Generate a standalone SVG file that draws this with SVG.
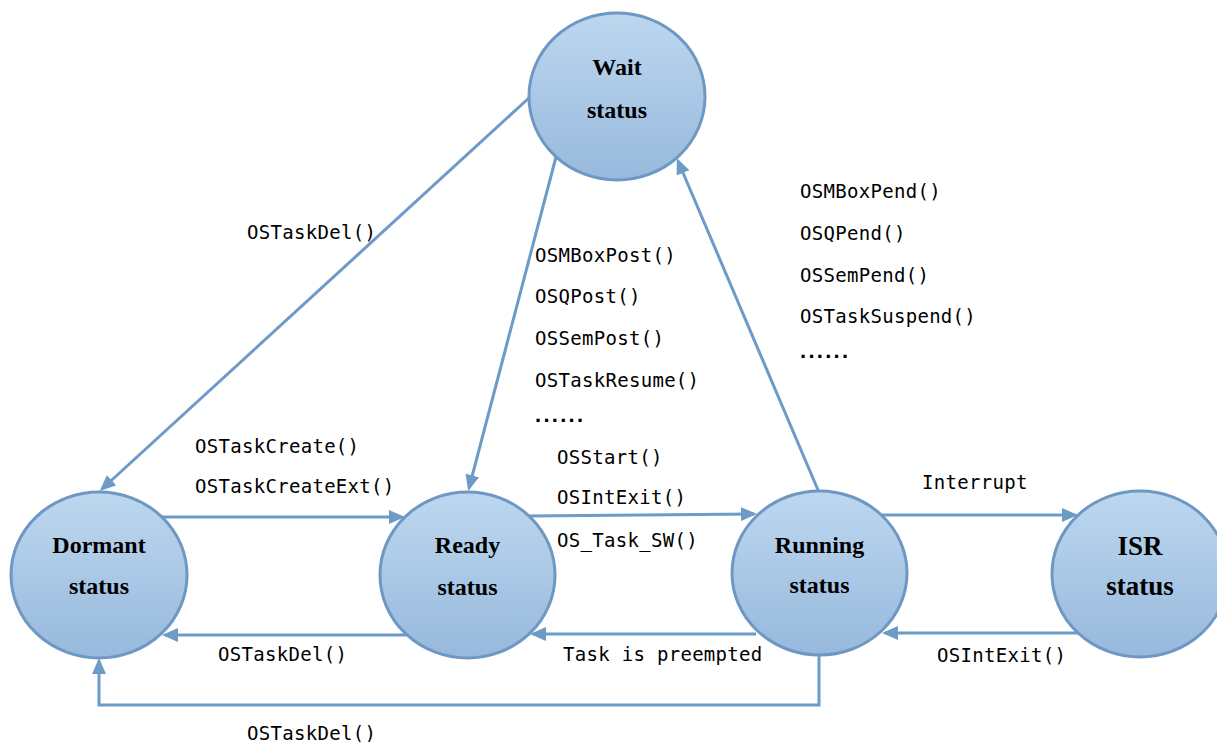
<svg xmlns="http://www.w3.org/2000/svg" width="1217" height="742" viewBox="0 0 1217 742">
<defs>
<linearGradient id="g" x1="0" y1="0" x2="0" y2="1">
<stop offset="0" stop-color="#BDD7EF"/>
<stop offset="1" stop-color="#97B9DD"/>
</linearGradient>
<marker id="a" markerUnits="userSpaceOnUse" markerWidth="17" markerHeight="15" refX="13" refY="7" orient="auto">
<path d="M0,0 L16,7 L0,14 z" fill="#6D9BC8"/>
</marker>
<style>
.n{fill:url(#g);stroke:#6E98C3;stroke-width:3}
.t{font-family:"Liberation Serif","Times New Roman",serif;font-weight:bold;font-size:24px;fill:#000;text-anchor:middle}
.c{fill:none;stroke:#6D9BC8;stroke-width:3}
.l{font-family:"DejaVu Sans Mono","Liberation Mono",monospace;font-size:19px;letter-spacing:0.3px;fill:#000}
.d{font-family:"Liberation Sans",Arial,sans-serif;font-weight:bold;font-size:22px;fill:#000}
</style>
</defs>
<rect width="1217" height="742" fill="#fff"/>
<g id="connectors">
<line class="c" x1="530" y1="97" x2="102" y2="489" marker-end="url(#a)"/>
<line class="c" x1="556" y1="157" x2="469" y2="488" marker-end="url(#a)"/>
<line class="c" x1="818" y1="490" x2="678" y2="161" marker-end="url(#a)"/>
<line class="c" x1="160" y1="517" x2="402" y2="517" marker-end="url(#a)"/>
<line class="c" x1="528" y1="516" x2="754" y2="514" marker-end="url(#a)"/>
<line class="c" x1="882" y1="515" x2="1075" y2="515" marker-end="url(#a)"/>
<line class="c" x1="406" y1="635" x2="165" y2="635" marker-end="url(#a)"/>
<line class="c" x1="756" y1="634" x2="533" y2="634" marker-end="url(#a)"/>
<line class="c" x1="1080" y1="633" x2="885" y2="633" marker-end="url(#a)"/>
<polyline class="c" points="819,655 819,705 99,705 99,661" marker-end="url(#a)"/>
</g>
<g id="labels">
<text class="l" x="247" y="239">OSTaskDel()</text>
<text class="l" x="195" y="453">OSTaskCreate()</text>
<text class="l" x="195" y="493">OSTaskCreateExt()</text>
<text class="l" x="535" y="262">OSMBoxPost()</text>
<text class="l" x="535" y="303">OSQPost()</text>
<text class="l" x="535" y="345">OSSemPost()</text>
<text class="l" x="535" y="387">OSTaskResume()</text>
<text class="d" x="535" y="422" textLength="48" lengthAdjust="spacing">......</text>
<text class="l" x="800" y="198">OSMBoxPend()</text>
<text class="l" x="800" y="240">OSQPend()</text>
<text class="l" x="800" y="282">OSSemPend()</text>
<text class="l" x="800" y="323">OSTaskSuspend()</text>
<text class="d" x="800" y="358" textLength="48" lengthAdjust="spacing">......</text>
<text class="l" x="557" y="464">OSStart()</text>
<text class="l" x="557" y="504">OSIntExit()</text>
<text class="l" x="557" y="547">OS_Task_SW()</text>
<text class="l" x="922" y="489">Interrupt</text>
<text class="l" x="218" y="661">OSTaskDel()</text>
<text class="l" x="563" y="661">Task is preempted</text>
<text class="l" x="937" y="662">OSIntExit()</text>
<text class="l" x="247" y="740">OSTaskDel()</text>
</g>
<g id="wait">
<ellipse class="n" cx="617" cy="96.5" rx="88" ry="83.5"/>
<text class="t" x="617" y="75">Wait</text>
<text class="t" x="617" y="118">status</text>
</g>
<g id="dormant">
<ellipse class="n" cx="99" cy="575" rx="88" ry="83"/>
<text class="t" x="99" y="553">Dormant</text>
<text class="t" x="99" y="594">status</text>
</g>
<g id="ready">
<ellipse class="n" cx="467.5" cy="575" rx="87.5" ry="83"/>
<text class="t" x="467.5" y="553">Ready</text>
<text class="t" x="467.5" y="595">status</text>
</g>
<g id="running">
<ellipse class="n" cx="819.5" cy="573" rx="87.5" ry="82"/>
<text class="t" x="819.5" y="553">Running</text>
<text class="t" x="819.5" y="593">status</text>
</g>
<g id="isr">
<ellipse class="n" cx="1140" cy="574" rx="88" ry="83"/>
<text class="t" x="1140" y="555" style="font-size:27px">ISR</text>
<text class="t" x="1140" y="595" style="font-size:27px">status</text>
</g>
</svg>
